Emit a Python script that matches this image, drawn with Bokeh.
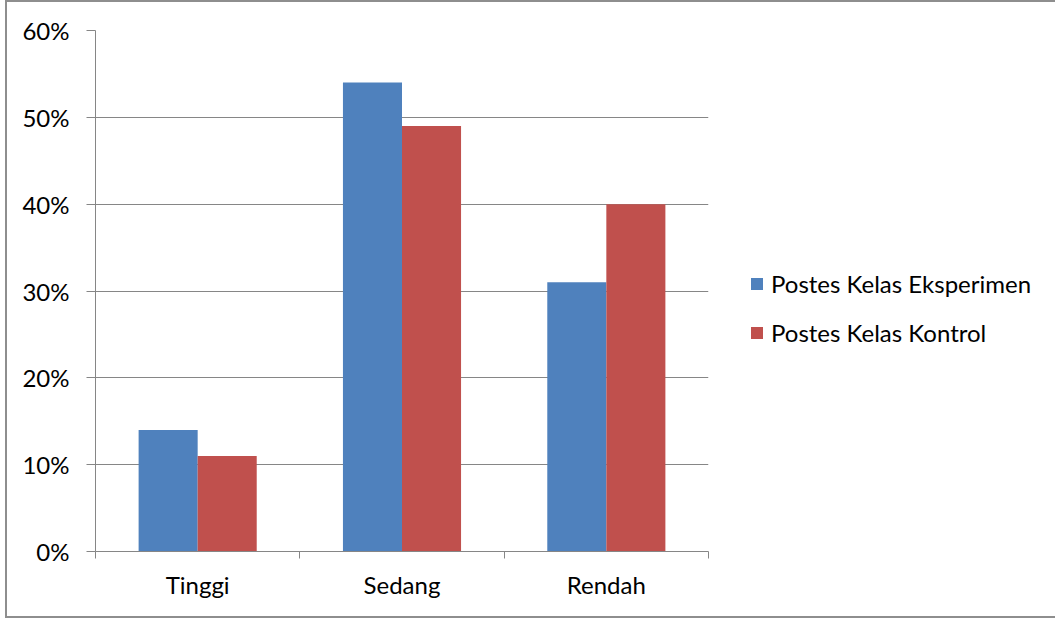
from bokeh.plotting import figure
from bokeh.models import FixedTicker, LinearAxis, Range1d, Legend, LegendItem, ColumnDataSource
from bokeh.embed import file_html
from bokeh.resources import INLINE

categories = ["Tinggi", "Sedang", "Rendah"]
eksperimen = [14, 54, 31]
kontrol = [11, 49, 40]
series_names = ["Postes Kelas Eksperimen", "Postes Kelas Kontrol"]
series_colors = ["#4F81BD", "#C0504D"]
y_ticks = [0, 10, 20, 30, 40, 50, 60]
y_tick_labels = ["0%", "10%", "20%", "30%", "40%", "50%", "60%"]

FONT = "Lato"
FS = "24px"
GRAY = "#868686"
BAR_W = 0.289

p = figure(frame_width=613, frame_height=521, output_backend="svg", toolbar_location=None,
           x_range=Range1d(0, len(categories)), y_range=Range1d(0, 60),
           min_border_left=88, min_border_right=0, min_border_top=28, min_border_bottom=65)
p.outline_line_color = None
p.background_fill_color = "white"
p.border_fill_color = "white"
p.styles = {"border-left": "2px solid #8e8e8e", "border-top": "2px solid #8e8e8e",
            "border-bottom": "2px solid #8e8e8e", "margin-left": "5px"}

centers = [i + 0.5 for i in range(len(categories))]
src = ColumnDataSource(dict(
    xe=[c - BAR_W / 2 for c in centers],
    xk=[c + BAR_W / 2 for c in centers],
    e=eksperimen, k=kontrol))
r1 = p.vbar(x="xe", top="e", bottom=0, width=BAR_W, source=src,
            fill_color=series_colors[0], line_color=None)
r2 = p.vbar(x="xk", top="k", bottom=0, width=BAR_W, source=src,
            fill_color=series_colors[1], line_color=None)

# y axis
ya = p.yaxis[0]
ya.ticker = FixedTicker(ticks=y_ticks)
ya.major_label_overrides = {t: l for t, l in zip(y_ticks, y_tick_labels)}
ya.major_tick_out = 9
ya.major_tick_in = 0
ya.minor_tick_line_color = None
ya.axis_line_color = GRAY
ya.major_tick_line_color = GRAY
ya.major_label_standoff = 17
ya.major_label_text_font = FONT
ya.major_label_text_font_size = FS
ya.major_label_text_color = "black"

p.ygrid.ticker = FixedTicker(ticks=y_ticks)
p.ygrid.grid_line_color = GRAY
p.xgrid.visible = False

# x axis: boundary ticks
xa = p.xaxis[0]
xa.ticker = FixedTicker(ticks=list(range(len(categories) + 1)))
xa.major_label_overrides = {i: "" for i in range(len(categories) + 1)}
xa.major_label_text_font_size = "1px"
xa.major_label_standoff = 0
xa.major_tick_out = 7
xa.major_tick_in = 0
xa.minor_tick_line_color = None
xa.axis_line_color = GRAY
xa.major_tick_line_color = GRAY

# x axis: category labels
xa2 = LinearAxis(ticker=FixedTicker(ticks=centers),
                 major_label_overrides={c: n for c, n in zip(centers, categories)},
                 axis_line_color=None, major_tick_line_color=None, minor_tick_line_color=None,
                 major_label_standoff=5, major_label_text_font=FONT,
                 major_label_text_font_size=FS, major_label_text_color="black")
p.add_layout(xa2, "below")

legend = Legend(items=[LegendItem(label=series_names[0], renderers=[r1]),
                       LegendItem(label=series_names[1], renderers=[r2])],
                location=(41, 204), orientation="vertical",
                glyph_width=15, glyph_height=15, label_standoff=7, spacing=20,
                padding=0, margin=0, border_line_color=None, background_fill_alpha=0,
                label_text_font=FONT, label_text_font_size=FS, label_text_color="black")
p.add_layout(legend, "right")

open("out.html", "w").write(file_html(p, INLINE))
